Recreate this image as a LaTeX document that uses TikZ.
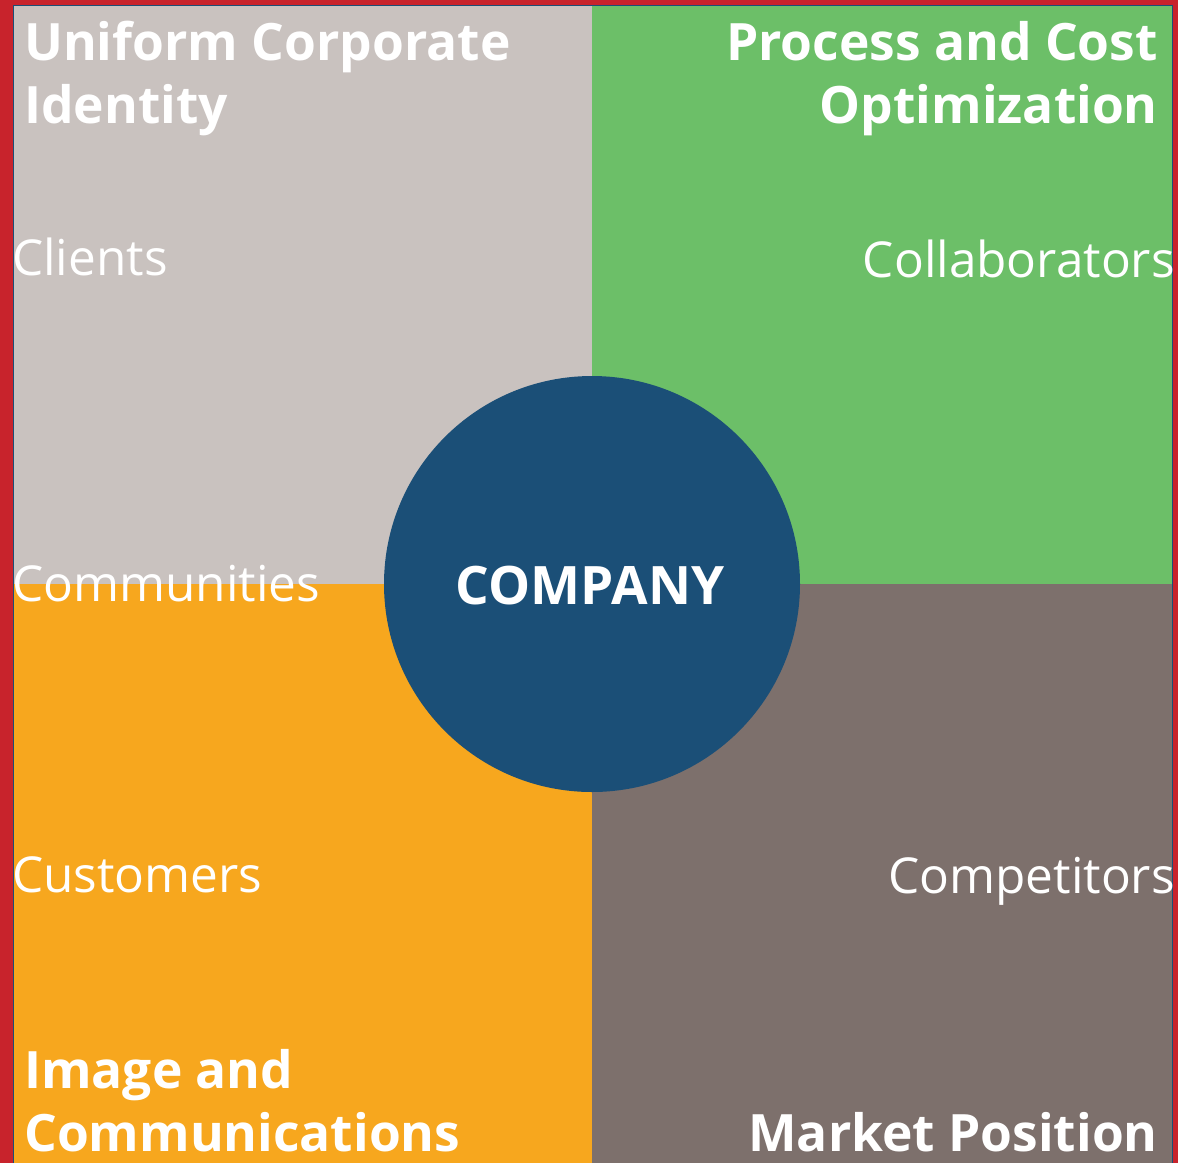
\documentclass[tikz,border=0pt]{standalone}
\usepackage{fontspec}
\setmainfont{Open Sans}
\definecolor{redbg}{HTML}{C8232C}
\definecolor{qgray}{HTML}{C9C2BF}
\definecolor{qgreen}{HTML}{6CBF68}
\definecolor{qorange}{HTML}{F7A71E}
\definecolor{qbrown}{HTML}{7D706C}
\definecolor{navy}{HTML}{1B4F77}
\tikzset{
  title/.style={text=white, font=\fontsize{51.5}{60}\selectfont\bfseries, inner sep=0pt, align=left},
  label/.style={text=white, font=\fontsize{49.5}{60}\selectfont, inner sep=0pt},
}
\begin{document}
\begin{tikzpicture}[x=1pt,y=-1pt]
\fill[redbg] (0,0) rectangle (1178,1163);
\useasboundingbox (0,0) rectangle (1178,1163);
\fill[qgray] (13,5) rectangle (592,584);
\fill[qgreen] (592,5) rectangle (1172,584);
\fill[qorange] (13,584) rectangle (592,1163);
\fill[qbrown] (592,584) rectangle (1172,1163);
\draw[navy, line width=0.8pt] (13,1163) -- (13,5) -- (1172,5) -- (1172,1163);
\node[circle, fill=navy, minimum size=416pt, inner sep=0pt] (c) at (592,584) {};
\node[anchor=base, text=white, font=\fontsize{53}{60}\selectfont\bfseries, inner sep=0pt] (comp) at (590,604) {COMPANY};
\node[title, anchor=base west] (t1) at (24,60) {Uniform Corporate};
\node[title, anchor=base west] (t1b) at (24,123) {Identity};
\node[title, anchor=base east] (t2) at (1158,60) {Process and Cost};
\node[title, anchor=base east] (t2b) at (1158,123) {Optimization};
\node[title, anchor=base west] (t3) at (24,1088) {Image and};
\node[title, anchor=base west] (t3b) at (24,1151) {Communications};
\node[title, anchor=base east] (t4) at (1158,1151) {Market Position};
\node[label, anchor=base west] (l1) at (12,275) {Clients};
\node[label, anchor=base east] (l2) at (1175,277) {Collaborators};
\node[label, anchor=base west] (l3) at (12,601) {Communities};
\node[label, anchor=base west] (l4) at (12,892) {Customers};
\node[label, anchor=base east] (l5) at (1175,893) {Competitors};
\end{tikzpicture}
\end{document}
